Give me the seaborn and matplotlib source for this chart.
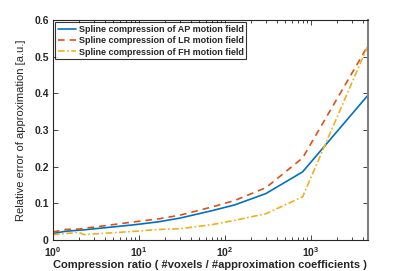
import matplotlib
matplotlib.use("Agg")
import matplotlib.pyplot as plt
import seaborn as sns
import pandas as pd
import numpy as np
from matplotlib.ticker import LogLocator, FixedLocator

sns.set_style("white")
plt.rcParams['font.family'] = ['Liberation Sans', 'DejaVu Sans']
plt.rcParams['mathtext.fontset'] = 'custom'
plt.rcParams['mathtext.rm'] = 'Liberation Sans'
plt.rcParams['mathtext.it'] = 'Liberation Sans'
plt.rcParams['mathtext.bf'] = 'Liberation Sans:bold'

ratio = [1, 1.4, 2, 2.3, 9, 17, 30, 70, 130, 300, 800, 4600]
err_ap = [0.018, 0.024, 0.027, 0.028, 0.042, 0.050, 0.060, 0.080, 0.096, 0.127, 0.186, 0.395]
err_lr = [0.022, 0.029, 0.030, 0.032, 0.050, 0.058, 0.068, 0.090, 0.108, 0.143, 0.224, 0.530]
err_fh = [0.015, 0.018, 0.021, 0.015, 0.024, 0.029, 0.031, 0.042, 0.054, 0.072, 0.118, 0.530]
labels = ["Spline compression of AP motion field",
          "Spline compression of LR motion field",
          "Spline compression of FH motion field"]
colors = ["#0072BD", "#D95319", "#EDB120"]
styles = ["-", (0, (4, 3)), (0, (4, 1.5, 1, 1.5))]

fig = plt.figure(figsize=(4.07, 2.71), dpi=100)
ax = fig.add_axes([0.130, 0.114, 0.774, 0.812])

for lab, vals, c, ls in zip(labels, [err_ap, err_lr, err_fh], colors, styles):
    df = pd.DataFrame({"x": ratio, "y": vals})
    sns.lineplot(data=df, x="x", y="y", ax=ax, color=c, lw=1.2, label=lab)
    ax.lines[-1].set_linestyle(ls)

ax.set_xscale("log")
ax.set_xlim(1, 4600)
ax.set_ylim(0, 0.6)
ax.yaxis.set_major_locator(FixedLocator([0, 0.1, 0.2, 0.3, 0.4, 0.5, 0.6]))
ax.set_yticklabels(["0", "0.1", "0.2", "0.3", "0.4", "0.5", "0.6"])
ax.xaxis.set_major_locator(LogLocator(base=10, numticks=10))
ax.xaxis.set_minor_locator(LogLocator(base=10, subs=np.arange(2, 10), numticks=20))

for s in ax.spines.values():
    s.set_color("#262626")
    s.set_linewidth(0.8)
ax.spines["right"].set_color("#808080")
ax.spines["right"].set_linewidth(1.5)
ax.tick_params(which="both", direction="in", top=True, right=True, bottom=True, left=True,
               colors="#262626", labelsize=7.5)
ax.tick_params(which="major", length=3.5, width=0.6)
ax.tick_params(which="minor", length=2, width=0.6)
ax.tick_params(axis="x", pad=4)
ax.tick_params(axis="y", pad=3)
for t in ax.get_xticklabels() + ax.get_yticklabels():
    t.set_fontweight("bold")

ax.set_xlabel("Compression ratio ( #voxels / #approximation coefficients )",
              fontsize=8, fontweight="bold", color="#262626", va="center")
ax.xaxis.set_label_coords(0.5, -0.115)
ax.set_ylabel("Relative error of approximation [a.u.]", fontsize=8, color="#262626", va="center")
ax.yaxis.set_label_coords(-0.10, 0.5)

leg = ax.legend(loc="upper left", fontsize=6.5, frameon=True, fancybox=False,
                borderpad=0.3, labelspacing=0.25, handlelength=2.0, handletextpad=0.3,
                borderaxespad=0.25)
leg.get_frame().set_edgecolor("black")
leg.get_frame().set_linewidth(0.8)
for t in leg.get_texts():
    t.set_fontweight("bold")

fig.savefig("out.png", dpi=100)
